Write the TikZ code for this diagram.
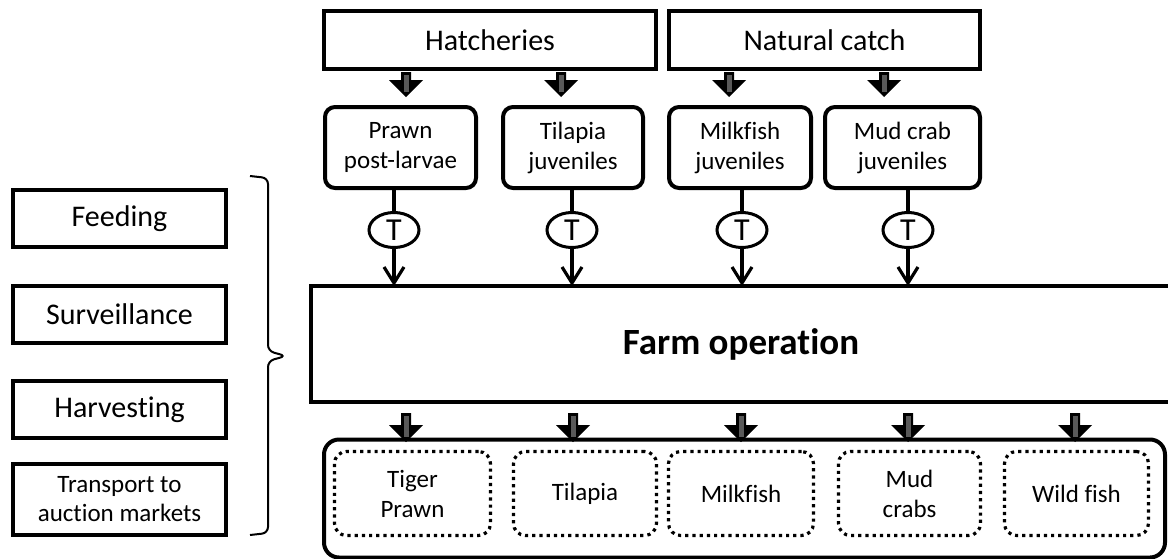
\documentclass[tikz,border=0pt]{standalone}
\usepackage{fontspec}
\setmainfont{Carlito}[Ligatures=NoCommon]
\usepackage{tikz}
\usetikzlibrary{arrows.meta,positioning,shapes.geometric}
\tikzset{
    box/.style={rectangle, draw, line width=2pt, inner sep=0pt, outer sep=0pt,
        align=center, font=\fontsize{15}{18}\selectfont},
    rbox/.style={box, rounded corners=5pt, font=\fontsize{12.5}{15}\selectfont},
    sidebox/.style={box, minimum width=106.5pt, minimum height=28.5pt},
    dbox/.style={rectangle, rounded corners=6pt, draw, line width=1.6pt,
        dash pattern=on 1.6pt off 2pt, inner sep=0pt, outer sep=0pt, align=center,
        minimum height=42pt, font=\fontsize{12.5}{15}\selectfont},
    tnode/.style={ellipse, draw, line width=1.5pt, minimum width=25pt,
        minimum height=17.5pt, inner sep=0pt, font=\fontsize{16}{18}\selectfont},
    tline/.style={line width=1.6pt},
    arrow/.style={-{Straight Barb[length=8pt,width=10pt]}, line width=1.6pt},
    brace/.style={line width=1pt, rounded corners=3pt},
    pics/fatarrow/.style={code={
        \fill (0,0) -- (-17,-17) -- (-5,-17) -- (-5,-#1) -- (5,-#1) -- (5,-17) -- (17,-17) -- cycle;
        \fill[gray!70!black] (-2.5,-#1+2.5) rectangle (2.5,-5);
    }}
}

\begin{document}
\begin{tikzpicture}[x=0.5pt, y=-0.5pt]
    \useasboundingbox (0,0) rectangle (1168,558);
    % sources
    \node[box, minimum width=166pt, minimum height=29pt] (hatch) at (490,40) {Hatcheries};
    \node[box, minimum width=155.5pt, minimum height=29pt] (natural) at (824.5,40) {Natural catch};
    % seed stock
    \node[rbox, minimum width=75.5pt, minimum height=40.5pt] (prawn) at (400.5,147.5) {Prawn\\post-larvae};
    \node[rbox, minimum width=70pt, minimum height=40.5pt] (tilapia) [right=13.5pt of prawn] {Tilapia\\juveniles};
    \node[rbox, minimum width=71pt, minimum height=40.5pt] (milkfish) [right=13pt of tilapia] {Milkfish\\juveniles};
    \node[rbox, minimum width=77.5pt, minimum height=40.5pt] (mudcrab) [right=7pt of milkfish] {Mud crab\\juveniles};
    % activities
    \node[sidebox] (feed) at (119.5,218.5) {Feeding};
    \node[sidebox] (surv) [below=19.5pt of feed] {Surveillance};
    \node[sidebox] (harv) [below=19pt of surv] {Harvesting};
    \node[sidebox, minimum height=35.5pt, font=\fontsize{12.5}{14.5}\selectfont] (trans) [below=13pt of harv] {Transport to\\auction markets};
    \coordinate (btop) at (250,176);
    \coordinate (bbot) at (250,535);
    \draw[brace] (btop) -- (268,178) -- (268,351) -- (286,356) -- (268,361) -- (268,533) -- (bbot);
    % farm
    \node[box, minimum width=430pt, minimum height=58pt,
        font=\fontsize{18.5}{21}\selectfont\bfseries] (farm) at (741,344) {Farm operation};
    % products
    \node[rbox, rounded corners=7.5pt, minimum width=420.5pt, minimum height=59pt] (stock) at (744.5,498.5) {};
    \node[dbox, minimum width=78pt] (tiger) at (412.5,493.5) {Tiger\\Prawn};
    \node[dbox, minimum width=71.5pt] (tilapiaout) [right=11.5pt of tiger] {Tilapia};
    \node[dbox, minimum width=72.5pt] (milkfishout) [right=6pt of tilapiaout] {Milkfish};
    \node[dbox, minimum width=71pt] (mudcrabs) [right=12.5pt of milkfishout] {Mud\\crabs};
    \node[dbox, minimum width=72pt] (wildfish) [right=12pt of mudcrabs] {Wild fish};
    % transport checks
    \node[tnode] (t1) at (394,230) {T};
    \node[tnode] (t2) at (572,230) {T};
    \node[tnode] (t3) at (742,230) {T};
    \node[tnode] (t4) at (908,230) {T};
    \path (prawn.south -| t1) edge [tline] (t1)
        (tilapia.south -| t2) edge [tline] (t2)
        (milkfish.south -| t3) edge [tline] (t3)
        (mudcrab.south -| t4) edge [tline] (t4)
        (t1) edge [arrow] (farm.north -| t1)
        (t2) edge [arrow] (farm.north -| t2)
        (t3) edge [arrow] (farm.north -| t3)
        (t4) edge [arrow] (farm.north -| t4);
    % block arrows
    \path (406,97) pic {fatarrow=25} (561,97) pic {fatarrow=25}
        (729,97) pic {fatarrow=25} (884,97) pic {fatarrow=25};
    \path (406,442) pic {fatarrow=29} (573,442) pic {fatarrow=29}
        (741,442) pic {fatarrow=29} (908,442) pic {fatarrow=29}
        (1075,442) pic {fatarrow=29};
\end{tikzpicture}
\end{document}
